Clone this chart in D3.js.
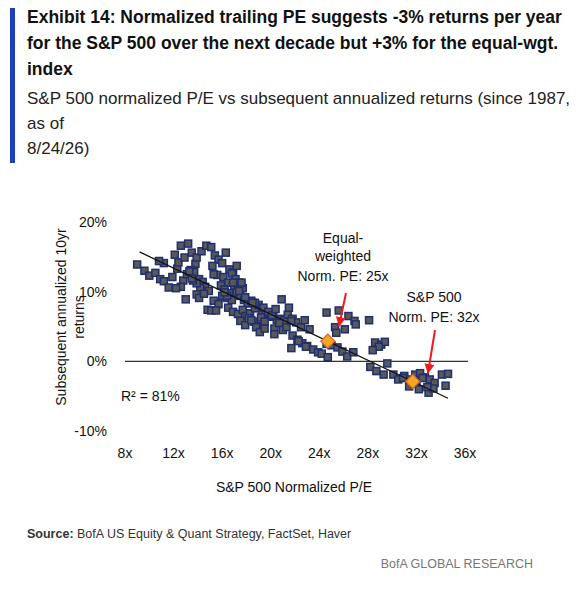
<!DOCTYPE html>
<html><head><meta charset="utf-8">
<script src="https://cdn.jsdelivr.net/npm/d3@7"></script>
<style>body{margin:0;background:#fff}</style>
</head><body>
<svg id="c" width="583" height="590"></svg>
<script>
const xTicks = [8,12,16,20,24,28,32,36];
const yTicks = [20,10,0,-10];
const peValues = [9,9.6,10,10.5,10.9,11.2,11.6,11.2,10.8,11.9,12.3,12.1,12.6,12.4,12.9,13.2,13.5,13.8,12.8,13.1,13.4,13.7,14.1,14.4,14.6,14.2,13.9,13.6,13.3,13.9,14.3,14.7,15.1,15.4,15.7,16,16.3,16.6,16.9,17.2,15.2,15.6,16.1,16.5,16.8,17.1,17.4,17.7,15.9,16.2,16.6,17,17.3,17.6,15.3,15.7,16,16.4,16.8,17.2,17.5,17.8,18.1,18.4,16.5,16.9,17.3,17.7,18,18.3,18.7,19,19.3,19.6,17.5,17.9,18.2,18.6,18.9,19.2,19.5,19.9,20.2,20.5,19.4,19.8,20.1,20.4,20.8,21.1,21.4,21.8,22.1,22.5,22.8,23.2,20.3,20.7,21,21.3,21.7,18.8,19.1,19.5,18.4,18.7,20.3,20.9,14.8,15.1,15.5,14.9,13.9,14.1,14.5,12.6,13,12.2,13.5,15.3,16.4,16.9,16.2,17.4,17.9,18.5,21.5,21.8,22.2,22.6,23,23.5,23.9,21.7,22.3,22.9,24.2,24.6,25,25.5,25.9,26.3,26.8,24.7,25.6,26.4,26.9,25.3,24.6,25.4,26.1,27,28.1,28.6,29.1,29.4,28.9,28.4,28.2,28.7,29.3,29.6,30.1,30.5,31,31.5,31.9,32.3,32.7,33.1,33.5,34.1,34.6,30.9,31.4,32,32.5,33,33.4,31.8,32.2,32.9,34.4];
const retValues = [13.9,13,12.3,12.7,11.8,11.5,10.6,14.1,14.4,12.1,13.3,15.3,16.6,14.2,14.9,16.9,15.6,14,11.6,12.5,13.1,12.8,11.8,11.4,10.7,10.5,11.2,11.6,12.9,14.9,15.8,16.6,16.4,15.2,14.6,14.1,15.6,13.2,12.8,13.7,13.7,12.4,12.1,11.3,12.6,11.8,11.3,10.5,10.9,10.3,9.8,10.8,10.4,11.3,8.7,8.2,9.4,9.1,8.8,9.9,9.4,8.8,8.3,8.7,7.7,7.1,6.8,7.4,6.5,6.9,7.6,8.1,7.3,6.8,5.8,5.2,6.2,5.7,5.1,6.3,5.7,6.9,6.4,5.9,7.7,7.1,6.6,7.5,6.1,5.9,6.7,6.1,5.6,4.9,5.9,4.6,4.7,5.5,4.5,4.9,5.8,4.9,4.2,4.7,5.9,8.4,3.9,8.9,7.4,7.3,7.3,10.1,9.6,9.1,9.7,10.7,8.9,10.5,11.9,12.5,9.4,11.3,9.9,10.1,9.2,8.4,7.7,3.7,3.1,2.6,2.2,1.7,1.3,1.9,2.9,2.1,1.1,2.5,2.3,2.0,1.4,0.7,1.3,0.6,7.3,6.5,5.8,4.9,7.0,4.1,4.6,5.3,5.9,2.7,2.4,2.8,2.1,1.6,-0.8,-1.4,-1.9,-0.3,-1.9,-2.6,-2.1,-2.6,-1.9,-1.7,-2.3,-2.6,-3.1,-1.9,-1.8,-2.4,-3.6,-3.0,-2.4,-4.5,-3.9,-3.2,-4,-3.7,-3.5,-3.8,-3.3,-4.6,-2.7];
const highlightPE = [24.7,31.7];
const highlightRet = [2.9,-2.9];
const fitPE = [9.2,34.6];
const fitRet = [15.7,-5.3];

const svg = d3.select("#c");
const F = "'Liberation Sans', Arial, sans-serif";
const N = "'Liberation Sans Narrow', 'Arial Narrow', 'Liberation Sans', sans-serif";
const x = d3.scaleLinear().domain([8,36]).range([125,465]);
const y = d3.scaleLinear().domain([-10,20]).range([431,222]);

svg.append("rect").attr("x",10).attr("y",8).attr("width",5).attr("height",155).attr("fill","#1f3fbf");
const title = ["Exhibit 14: Normalized trailing PE suggests -3% returns per year","for the S&P 500 over the next decade but +3% for the equal-wgt.","index"];
title.forEach((t,i)=>svg.append("text").attr("x",27).attr("y",23+i*26).text(t)
  .attr("font-family",N).attr("font-weight","bold").attr("font-size",17.5).attr("fill","#111"));
const sub = ["S&P 500 normalized P/E vs subsequent annualized returns (since 1987,","as of","8/24/26)"];
sub.forEach((t,i)=>svg.append("text").attr("x",27).attr("y",104+i*25).text(t)
  .attr("font-family",N).attr("font-size",17).attr("fill","#222"));

svg.selectAll(".xt").data(xTicks).join("text").attr("x",d=>x(d)).attr("y",458).attr("text-anchor","middle")
  .attr("font-family",F).attr("font-size",14).attr("fill","#111").text(d=>d+"x");
svg.selectAll(".yt").data(yTicks).join("text").attr("x",107).attr("y",d=>y(d)+5).attr("text-anchor","end")
  .attr("font-family",F).attr("font-size",14).attr("fill","#111").text(d=>d+"%");
svg.append("text").attr("x",294).attr("y",492).attr("text-anchor","middle").attr("font-family",F).attr("font-size",14).attr("fill","#111").text("S&P 500 Normalized P/E");
svg.append("text").attr("transform","translate(66,317) rotate(-90)").attr("text-anchor","middle").attr("font-family",F).attr("font-size",14).attr("fill","#111").text("Subsequent annualized 10yr");
svg.append("text").attr("transform","translate(84,317) rotate(-90)").attr("text-anchor","middle").attr("font-family",F).attr("font-size",14).attr("fill","#111").text("returns");

svg.append("line").attr("x1",x(8)).attr("x2",x(36)+3).attr("y1",y(0)).attr("y2",y(0)).attr("stroke","#333").attr("stroke-width",1.2);

const n = Math.min(peValues.length, retValues.length);
const pts = d3.range(n).map(i=>[peValues[i],retValues[i]]);
svg.selectAll(".p").data(pts).join("rect").attr("x",d=>x(d[0])-3.5).attr("y",d=>y(d[1])-3.5)
  .attr("width",7).attr("height",7).attr("fill","#595959").attr("stroke","#1f2f6f").attr("stroke-width",1.5);

svg.append("line").attr("x1",x(fitPE[0])).attr("y1",y(fitRet[0])).attr("x2",x(fitPE[1])).attr("y2",y(fitRet[1])).attr("stroke","#111").attr("stroke-width",1.3);

highlightPE.forEach((p,i)=>svg.append("rect").attr("x",-5).attr("y",-5).attr("width",10).attr("height",10)
  .attr("transform",`translate(${x(p)},${y(highlightRet[i])}) rotate(45)`).attr("fill","#f5a623").attr("stroke","#d9661f").attr("stroke-width",1.2));

const defs = svg.append("defs");
defs.append("marker").attr("id","ah").attr("viewBox","0 0 10 10").attr("refX",9).attr("refY",5).attr("markerWidth",5).attr("markerHeight",5).attr("orient","auto")
  .append("path").attr("d","M0,0L10,5L0,10z").attr("fill","#ee1c1c");
svg.append("line").attr("x1",346).attr("y1",293).attr("x2",339).attr("y2",326).attr("stroke","#ee1c1c").attr("stroke-width",2).attr("marker-end","url(#ah)");
svg.append("line").attr("x1",435).attr("y1",330).attr("x2",428).attr("y2",373).attr("stroke","#ee1c1c").attr("stroke-width",2).attr("marker-end","url(#ah)");
[["Equal-",243],["weighted",261],["Norm. PE: 25x",281]].forEach(([t,yy])=>svg.append("text").attr("x",343).attr("y",yy).attr("text-anchor","middle").attr("font-family",F).attr("font-size",14).attr("fill","#111").text(t));
[["S&P 500",302],["Norm. PE: 32x",322]].forEach(([t,yy])=>svg.append("text").attr("x",434).attr("y",yy).attr("text-anchor","middle").attr("font-family",F).attr("font-size",14).attr("fill","#111").text(t));
svg.append("text").attr("x",121).attr("y",401).attr("font-family",F).attr("font-size",14).attr("fill","#111").text("R² = 81%");

const src = svg.append("text").attr("x",27).attr("y",538).attr("font-family",N).attr("font-size",12.5).attr("fill","#333");
src.append("tspan").attr("font-weight","bold").text("Source:");
src.append("tspan").text(" BofA US Equity & Quant Strategy, FactSet, Haver");
svg.append("text").attr("x",533).attr("y",568).attr("text-anchor","end").attr("font-family",N).attr("font-size",12.5).attr("fill","#777").text("BofA GLOBAL RESEARCH");
</script>
</body></html>
